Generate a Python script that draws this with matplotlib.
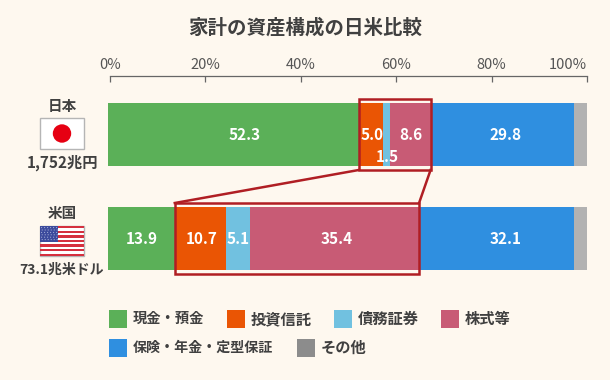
import matplotlib
matplotlib.use("Agg")
import matplotlib.pyplot as plt
from matplotlib.patches import Rectangle, Circle

plt.rcParams['font.family'] = ['Noto Sans CJK JP', 'DejaVu Sans']

title = "家計の資産構成の日米比較"
categories = ["日本", "米国"]
totals = ["1,752兆円", "73.1兆米ドル"]
series_names = ["現金・預金", "投資信託", "債務証券", "株式等", "保険・年金・定型保証", "その他"]
japan = [52.3, 5.0, 1.5, 8.6, 29.8, 2.8]
usa = [13.9, 10.7, 5.1, 35.4, 32.1, 2.8]
colors = ["#5BB058", "#EA5504", "#71C1E0", "#C85B75", "#2F8FE0", "#B2B2B2"]
legend_colors = ["#5BB058", "#EA5504", "#71C1E0", "#C85B75", "#2F8FE0", "#8C8C8C"]
ticks = [0, 20, 40, 60, 80, 100]
tick_labels = ["0%", "20%", "40%", "60%", "80%", "100%"]

BG = "#FEF8EF"
TXT = "#404040"
RED = "#B01E23"
W, H = 610, 380

fig = plt.figure(figsize=(W / 100, H / 100), dpi=100, facecolor=BG)

ov = fig.add_axes([0, 0, 1, 1], zorder=0)
ov.set_xlim(0, W)
ov.set_ylim(H, 0)
ov.axis("off")

ax_top, ax_bot = 76, 290
ax = fig.add_axes([108.2 / W, 1 - ax_bot / H, 479 / W, (ax_bot - ax_top) / H], zorder=1)
ax.patch.set_alpha(0)
ax.set_xlim(0, 100)
pitch = 104
ax.set_ylim((ax_bot - 134.5) / pitch, (ax_top - 134.5) / pitch)
bar_h = 63 / pitch
ax.axis("off")

label_dx = {(0, 0): 2.4, (0, 1): 0.3, (0, 2): 0.2, (0, 4): 0.7,
            (1, 3): 0.4, (1, 4): 1.8, (1, 1): 0.2}

rows = [japan, usa]
for r, vals in enumerate(rows):
    left = 0
    for i, v in enumerate(vals):
        ax.barh(r, v, left=left, height=bar_h, color=colors[i], linewidth=0)
        if i < 5:
            dy = 22 / pitch if (r == 0 and i == 2) else 0
            dx = label_dx.get((r, i), 0)
            ax.text(left + v / 2 + dx, r + dy, f"{v:.1f}", color="white", fontsize=11,
                    fontweight="bold", ha="center", va="center", zorder=7)
        left += v

pad_y = (bar_h / 2) + 4 / pitch
j0, j1 = sum(japan[:1]), sum(japan[:4]) - 0.1
u0, u1 = sum(usa[:1]), sum(usa[:4]) - 0.2
for r, (a, b) in enumerate([(j0, j1), (u0, u1)]):
    ax.add_patch(Rectangle((a, r - pad_y), b - a, 2 * pad_y, fill=False,
                           edgecolor=RED, linewidth=1.8, zorder=6))
ax.plot([j0, u0], [pad_y, 1 - pad_y], color=RED, lw=1.8, zorder=6)
ax.plot([j1, u1], [pad_y, 1 - pad_y], color=RED, lw=1.8, zorder=6)

# percentage axis sits on its own slightly narrower span above the bars
axt = fig.add_axes([110 / W, 1 - 90 / H, 477 / W, 14 / H], zorder=2)
axt.patch.set_alpha(0)
axt.set_xlim(0, 100)
axt.set_yticks([])
for s in ["left", "right", "bottom"]:
    axt.spines[s].set_visible(False)
axt.spines["top"].set_color("#666666")
axt.spines["top"].set_linewidth(0.9)
axt.xaxis.tick_top()
axt.set_xticks(ticks)
axt.set_xticklabels(tick_labels, fontsize=10.5, color="#555555")
axt.get_xticklabels()[-1].set_ha("right")
axt.tick_params(axis="x", direction="in", length=4, width=0.9, color="#666666", pad=3)

ov.text(305, 28, title, fontsize=14, fontweight="bold", color=TXT, ha="center", va="center")

ov.text(62, 106, categories[0], fontsize=10.5, fontweight="bold", color=TXT, ha="center", va="center")
ov.text(62, 163, totals[0], fontsize=11, fontweight="bold", color=TXT, ha="center", va="center")
ov.text(62, 213, categories[1], fontsize=10.5, fontweight="bold", color=TXT, ha="center", va="center")
ov.text(62, 270, totals[1], fontsize=10, fontweight="bold", color=TXT, ha="center", va="center")

ov.add_patch(Rectangle((40, 118), 44, 31, facecolor="white", edgecolor="#B5B5B5", lw=1))
ov.add_patch(Circle((62, 133.5), 9.2, facecolor="#E60012", edgecolor="none"))

fx, fy, fw, fh = 40, 226, 44, 30
ov.add_patch(Rectangle((fx, fy), fw, fh, facecolor="white", edgecolor="#B5B5B5", lw=1))
sh = fh / 13
for k in range(0, 13, 2):
    ov.add_patch(Rectangle((fx, fy + k * sh), fw, sh, facecolor="#D5303E", edgecolor="none"))
ov.add_patch(Rectangle((fx, fy), 18, 7 * sh, facecolor="#3C4A9C", edgecolor="none"))
for sr in range(6):
    for sc in range(6):
        ov.add_patch(Circle((fx + 1.6 + sc * 3 + (sr % 2) * 0.6, fy + 1.6 + sr * 2.4), 0.55,
                            facecolor="#AEB6DC", edgecolor="none"))

legend_pos = [(109, 319), (227, 319), (334, 319), (441, 319), (109, 348), (297, 348)]
legend_sizes = [10.3, 11, 11, 11, 10.1, 11]
for (x, y), name, c, fs in zip(legend_pos, series_names, legend_colors, legend_sizes):
    ov.add_patch(Rectangle((x, y - 9), 18, 18, facecolor=c, edgecolor="none"))
    ov.text(x + 24, y, name, fontsize=fs, fontweight="bold", color=TXT, ha="left", va="center")

fig.savefig("out.png", dpi=100, facecolor=BG)
